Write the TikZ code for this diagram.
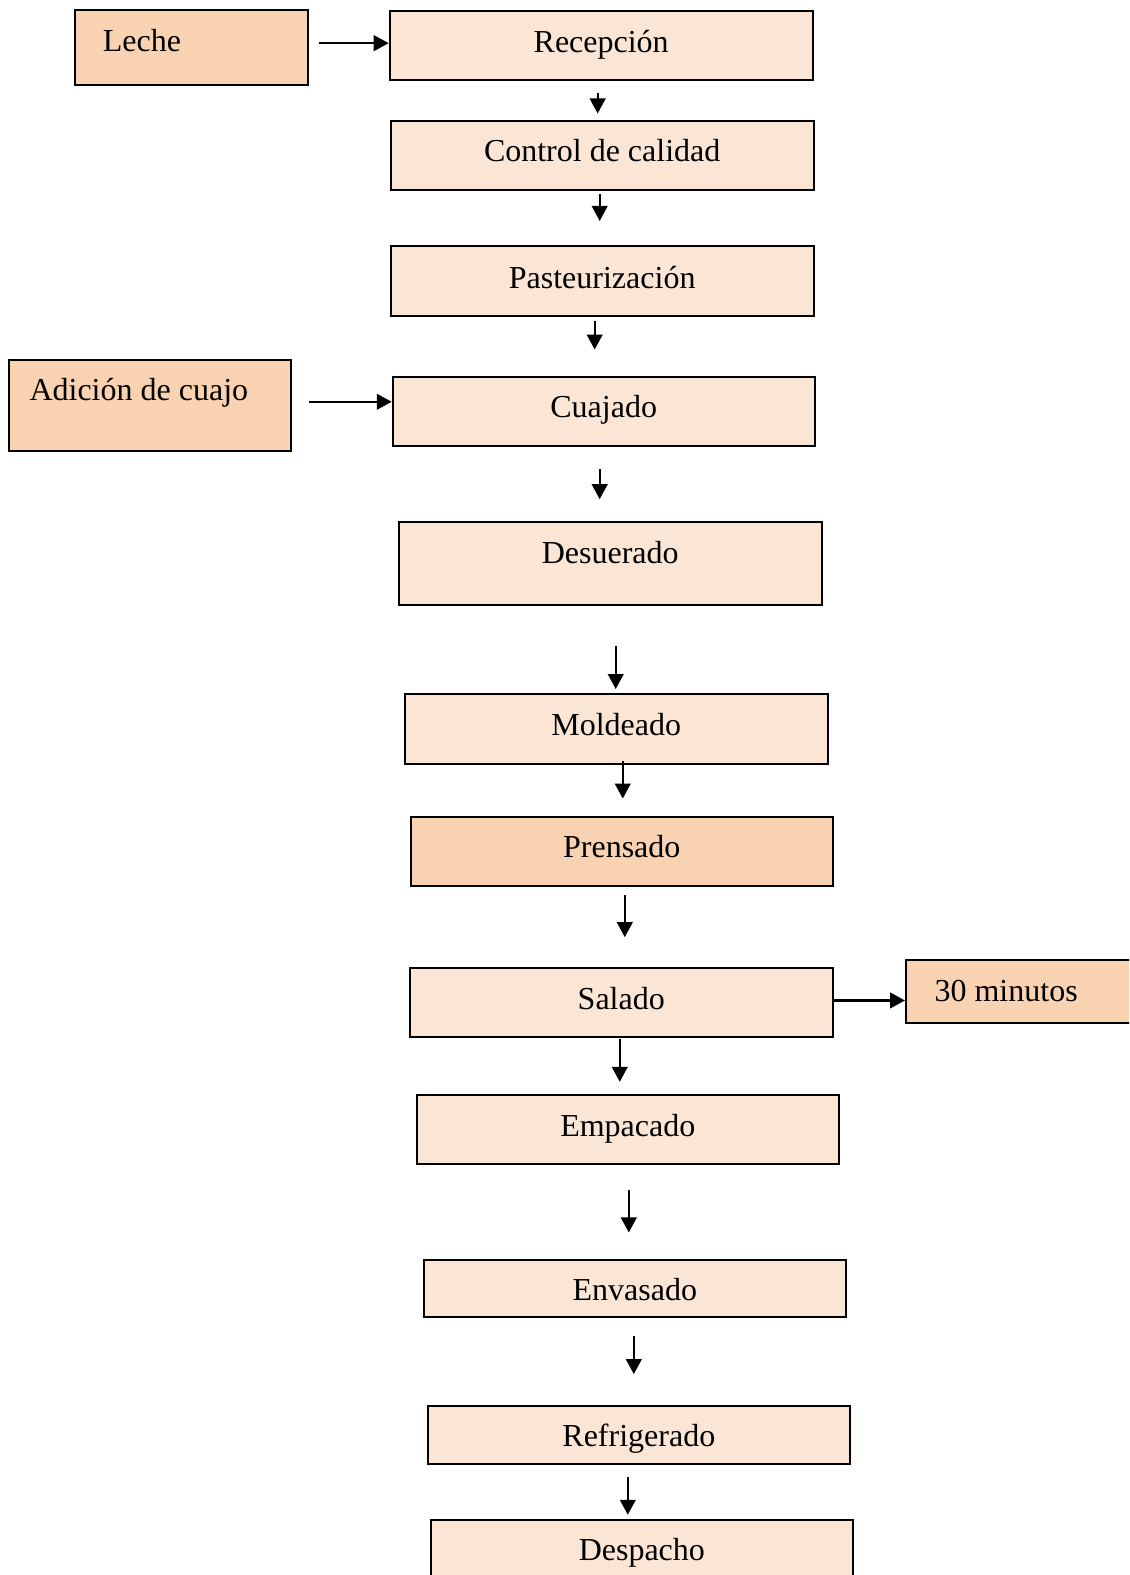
\documentclass[tikz,border=0pt]{standalone}
\usepackage{fontspec}
\setmainfont{Liberation Serif}
\usetikzlibrary{arrows.meta,fit,calc}

\definecolor{stepfill}{HTML}{FBE6D6}
\definecolor{inputfill}{HTML}{F9D2B2}

\tikzset{
  stepbox/.style={draw=black, line width=1pt, fill=stepfill, inner sep=0pt, rectangle},
  inbox/.style={stepbox, fill=inputfill},
  lbl/.style={inner sep=0pt, anchor=base, font=\fontsize{16}{19}\selectfont},
  lblw/.style={lbl, anchor=base west},
  arr/.style={line width=1.15pt, -{Triangle[length=7.5pt,width=7.8pt]}}
}

\begin{document}
\begin{tikzpicture}[x=0.50225pt, y=-0.50225pt]
  \useasboundingbox (0,0) rectangle (1124,1568);
  \clip (0,0) rectangle (1124,1568);
  \fill[white] (0,0) rectangle (1124,1568);

  % process boxes
  \node[inbox,   fit={(75,10) (307,85)}]     (leche) {};
  \node[stepbox, fit={(388,11) (809,80)}]    (rec)   {};
  \node[stepbox, fit={(389,120) (810,189)}]  (ctrl)  {};
  \node[stepbox, fit={(389,245) (810,315)}]  (past)  {};
  \node[inbox,   fit={(9,358) (290,449)}]    (adic)  {};
  \node[stepbox, fit={(391,375) (811,444)}]  (cuaj)  {};
  \node[stepbox, fit={(397,520) (818,602)}]  (desu)  {};
  \node[stepbox, fit={(403,691) (824,761)}]  (mold)  {};
  \node[inbox,   fit={(409,813) (829,882)}]  (pren)  {};
  \node[stepbox, fit={(408,964) (829,1032)}] (sal)   {};
  \node[inbox,   fit={(902,956) (1140,1018)}] (mins) {};
  \node[stepbox, fit={(415,1090) (835,1159)}] (emp)  {};
  \node[stepbox, fit={(422,1254) (842,1311)}] (env)  {};
  \node[stepbox, fit={(426,1400) (846,1457)}] (refr) {};
  \node[stepbox, fit={(429,1513) (849,1600)}] (desp) {};

  % box texts
  \node[lblw] (tleche) at ($(leche.north west)+(28,42)$) {Leche};
  \node[lbl]  (trec)   at ($(rec.north)+(0,42)$)  {Recepción};
  \node[lbl]  (tctrl)  at ($(ctrl.north)+(0,42)$) {Control de calidad};
  \node[lbl]  (tpast)  at ($(past.north)+(0,43)$) {Pasteurización};
  \node[lblw] (tadic)  at ($(adic.north west)+(21,42)$) {Adición de cuajo};
  \node[lbl]  (tcuaj)  at ($(cuaj.north)+(0,42)$) {Cuajado};
  \node[lbl]  (tdesu)  at ($(desu.north)+(0,42)$) {Desuerado};
  \node[lbl]  (tmold)  at ($(mold.north)+(0,42)$) {Moldeado};
  \node[lbl]  (tpren)  at ($(pren.north)+(0,42)$) {Prensado};
  \node[lbl]  (tsal)   at ($(sal.north)+(0,42)$)  {Salado};
  \node[lblw] (tmins)  at ($(mins.north west)+(29,42)$) {30 minutos};
  \node[lbl]  (temp)   at ($(emp.north)+(0,42)$)  {Empacado};
  \node[lbl]  (tenv)   at ($(env.north)+(0,42)$)  {Envasado};
  \node[lbl]  (trefr)  at ($(refr.north)+(0,41)$) {Refrigerado};
  \node[lbl]  (tdesp)  at ($(desp.north)+(0,42)$) {Despacho};

  % arrow end points
  \coordinate (h1) at (318,43);
  \coordinate (h2) at (308,400);
  \coordinate (h3) at (829,996);
  \coordinate (v1s) at (595,93);   \coordinate (v1e) at (595,113);
  \coordinate (v2s) at (597,193);  \coordinate (v2e) at (597,220);
  \coordinate (v3s) at (592,320);  \coordinate (v3e) at (592,348);
  \coordinate (v4s) at (597,467);  \coordinate (v4e) at (597,497);
  \coordinate (v5s) at (613,643);  \coordinate (v5e) at (613,686);
  \coordinate (v6s) at (620,758);  \coordinate (v6e) at (620,795);
  \coordinate (v7s) at (622,891);  \coordinate (v7e) at (622,933);
  \coordinate (v8s) at (617,1034); \coordinate (v8e) at (617,1077);
  \coordinate (v9s) at (626,1185); \coordinate (v9e) at (626,1227);
  \coordinate (v10s) at (631,1330); \coordinate (v10e) at (631,1368);
  \coordinate (v11s) at (625,1470); \coordinate (v11e) at (625,1508);

  % connectors
  \draw[arr] (h1) -- (rec.west |- h1);
  \draw[arr] (h2) -- (cuaj.west |- h2);
  \draw[arr] (h3) -- (mins.west |- h3);
  \foreach \i in {1,...,11} {
    \draw[arr] (v\i s) -- (v\i e);
  }
\end{tikzpicture}
\end{document}
